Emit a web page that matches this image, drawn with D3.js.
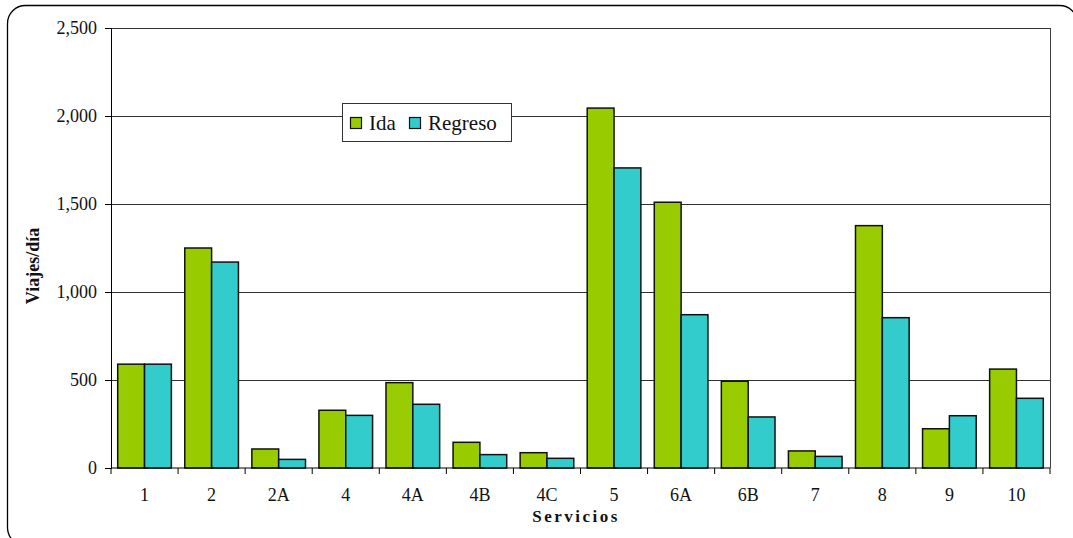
<!DOCTYPE html>
<html><head><meta charset="utf-8">
<script src="https://cdn.jsdelivr.net/npm/d3@7"></script>
<style>body{margin:0;background:#fff}svg{display:block}text{font-family:"Liberation Serif","Times New Roman",serif}</style>
</head><body>
<script>
const categories = ["1","2","2A","4","4A","4B","4C","5","6A","6B","7","8","9","10"];
const ida     = [590,1250,108,328,485,146,87,2045,1510,493,97,1377,223,562];
const regreso = [590,1170,49,299,362,76,55,1705,871,290,66,854,297,396];
const seriesNames = ["Ida","Regreso"];
const yTicks = [0,500,1000,1500,2000,2500];

const W=1073,H=538;
const L=111,R=1050,T=28,B=468;
const colors={"Ida":"#99CC00","Regreso":"#33CCCC"};
const font='"Liberation Serif","Times New Roman",serif';

const svg=d3.select("body").append("svg").attr("width",W).attr("height",H);
svg.append("rect").attr("x",7.5).attr("y",5.5).attr("width",1070).attr("height",540)
  .attr("rx",18).attr("fill","#fff").attr("stroke","#000").attr("stroke-width",1.3);

const x=d3.scaleBand().domain(categories).range([L,R]).paddingInner(0.2).paddingOuter(0.1);
const xs=d3.scaleBand().domain(seriesNames).range([0,x.bandwidth()]);
const y=d3.scaleLinear().domain([0,2500]).range([B,T]);

// grid
svg.append("g").selectAll("line").data(yTicks.filter(d=>d>0)).join("line")
  .attr("x1",L).attr("x2",R).attr("y1",d=>Math.round(y(d))+0.5).attr("y2",d=>Math.round(y(d))+0.5)
  .attr("stroke","#303030").attr("stroke-width",1);
svg.append("line").attr("x1",R+0.5).attr("x2",R+0.5).attr("y1",T).attr("y2",B).attr("stroke","#404040");

const data=categories.map((c,i)=>({c,vals:[{s:"Ida",v:ida[i]},{s:"Regreso",v:regreso[i]}]}));
const g=svg.append("g").selectAll("g").data(data).join("g").attr("transform",d=>`translate(${x(d.c)},0)`);
g.selectAll("rect").data(d=>d.vals).join("rect")
  .attr("x",d=>xs(d.s)).attr("width",xs.bandwidth())
  .attr("y",d=>y(d.v)).attr("height",d=>B-y(d.v))
  .attr("fill",d=>colors[d.s]).attr("stroke","#111").attr("stroke-width",1.5);

// y axis
const ya=svg.append("g").attr("transform",`translate(${L},0)`)
  .call(d3.axisLeft(y).tickValues(yTicks).tickFormat(d3.format(",")).tickSize(6).tickPadding(8));
ya.attr("font-family",null).attr("font-size",null);
ya.select(".domain").attr("stroke","#000");
ya.selectAll("text").style("font-family",font).style("font-size","18px").attr("fill","#111");
// x axis
const boundaries=categories.map(c=>x(c)-x.step()*x.paddingInner()/2).concat([R]);
const xa=svg.append("g").attr("transform",`translate(0,${B})`);
xa.append("line").attr("x1",L).attr("x2",R).attr("stroke","#000");
xa.selectAll("line.t").data(boundaries).join("line").attr("class","t")
  .attr("x1",d=>d).attr("x2",d=>d).attr("y1",0).attr("y2",6).attr("stroke","#000");
xa.selectAll("text").data(categories).join("text")
  .attr("x",d=>x(d)+x.bandwidth()/2).attr("y",33).attr("text-anchor","middle")
  .style("font-family",font).style("font-size","18px").attr("fill","#111").text(d=>d);

// axis titles
svg.append("text").attr("transform","translate(39,266) rotate(-90)").attr("text-anchor","middle")
  .style("font-family",font).attr("font-weight","bold").style("font-size","18px").attr("fill","#111").text("Viajes/día");
svg.append("text").attr("x",576).attr("y",522).attr("text-anchor","middle").attr("letter-spacing",2.5)
  .style("font-family",font).attr("font-weight","bold").style("font-size","17px").attr("fill","#111").text("Servicios");

// legend
const lg=svg.append("g");
lg.append("rect").attr("x",342.5).attr("y",103.5).attr("width",169).attr("height",38)
  .attr("fill","#fff").attr("stroke","#333");
const items=[{s:"Ida",x:350},{s:"Regreso",x:409}];
items.forEach(it=>{
  lg.append("rect").attr("x",it.x+0.5).attr("y",117.5).attr("width",11).attr("height",11)
    .attr("fill",colors[it.s]).attr("stroke","#111").attr("stroke-width",1.2);
  lg.append("text").attr("x",it.x+19).attr("y",130).style("font-family",font).style("font-size","21px")
    .attr("fill","#111").text(it.s);
});
</script>
</body></html>
